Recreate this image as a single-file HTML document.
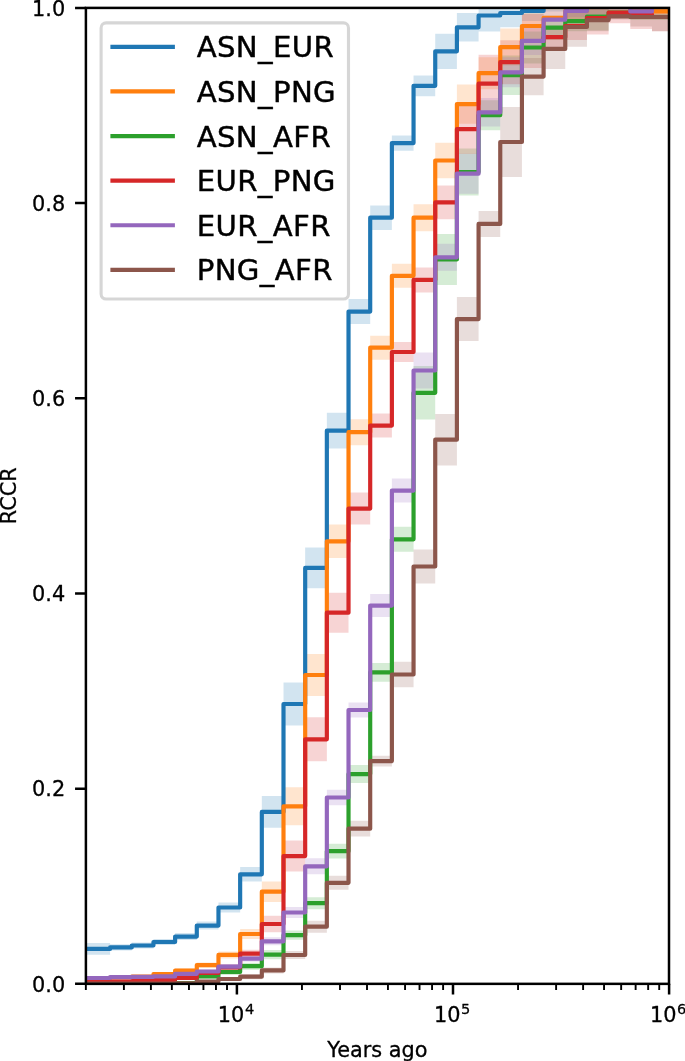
<!DOCTYPE html>
<html lang="en"><head><meta charset="utf-8"><title>RCCR</title>
<style>html,body{margin:0;padding:0;background:#fff}svg{display:block}text{font-family:"DejaVu Sans","Liberation Sans",sans-serif;fill:#000;stroke:#000;stroke-width:0.3px;stroke-linejoin:round}</style></head><body>
<svg width="685" height="1061" viewBox="0 0 685 1061">
<rect width="685" height="1061" fill="#fff"/>
<defs><clipPath id="ax"><rect x="85.9" y="7.9" width="583.1" height="975.95"/></clipPath></defs>
<g clip-path="url(#ax)">
<path d="M80.9 943.1H110.1V954.7H80.9ZM110.1 944.3H131.78V950.5H110.1ZM131.78 942.5H153.45V948.5H131.78ZM153.45 939H175.12V945H153.45ZM175.12 933.1H196.8V940.1H175.12ZM196.8 921.6H218.47V929.6H196.8ZM218.47 902.5H240.15V912.5H218.47ZM240.15 867.1H261.82V881.5H240.15ZM261.82 796.1H283.5V827.7H261.82ZM283.5 682.5H305.18V725.5H283.5ZM305.18 547.5H326.85V588.3H305.18ZM326.85 412.8H348.52V448.6H326.85ZM348.52 299.1H370.2V324.1H348.52ZM370.2 205.5H391.88V229.9H370.2ZM391.88 135.4H413.55V150.8H391.88ZM413.55 75.4H435.23V96.2H413.55ZM435.23 33.7H456.9V68.9H435.23ZM456.9 13.1H478.58V41.5H456.9ZM478.58 -0.5H500.25V31.5H478.58ZM500.25 -1.3H521.93V27.3H500.25ZM521.93 0.9H543.6V20.9H521.93ZM543.6 -0.5H565.27V11.5H543.6ZM565.27 1.5H586.95V9.5H565.27ZM586.95 2.5H608.62V8.5H586.95ZM608.62 3.5H630.3V7.5H608.62ZM630.3 3.5H651.98V7.5H630.3ZM651.98 3.5H673.65V7.5H651.98Z" fill="#1f77b4" fill-opacity="0.2"/>
<path d="M80.9 976.7H110.1V979.7H80.9ZM110.1 976H131.78V979H110.1ZM131.78 975.1H153.45V978.1H131.78ZM153.45 972.7H175.12V975.7H153.45ZM175.12 968.6H196.8V972.6H175.12ZM196.8 962.6H218.47V967.6H196.8ZM218.47 951.4H240.15V958.4H218.47ZM240.15 929H261.82V939H240.15ZM261.82 881.5H283.5V901.9H261.82ZM283.5 787.3H305.18V825.3H283.5ZM305.18 654H326.85V696H305.18ZM326.85 524.5H348.52V558.1H326.85ZM348.52 419.2H370.2V445.2H348.52ZM370.2 335.7H391.88V359.7H370.2ZM391.88 263.8H413.55V287.8H391.88ZM413.55 204.2H435.23V231.2H413.55ZM435.23 142.7H456.9V178.3H435.23ZM456.9 84.4H478.58V123.8H456.9ZM478.58 57.2H500.25V89.2H478.58ZM500.25 28.6H521.93V65.6H500.25ZM521.93 11H543.6V41H521.93ZM543.6 7.8H565.27V27.8H543.6ZM565.27 3H586.95V19H565.27ZM586.95 -3.5H608.62V14.5H586.95ZM608.62 -0.5H630.3V11.5H608.62ZM630.3 6.4H651.98V16.4H630.3ZM651.98 7.3H673.65V15.3H651.98Z" fill="#ff7f0e" fill-opacity="0.2"/>
<path d="M80.9 981.6H110.1V983.6H80.9ZM110.1 981.4H131.78V983.4H110.1ZM131.78 981.1H153.45V983.1H131.78ZM153.45 980.6H175.12V982.6H153.45ZM175.12 981.5H196.8V984.5H175.12ZM196.8 974.5H218.47V978.5H196.8ZM218.47 969H240.15V975H218.47ZM240.15 962.7H261.82V969.7H240.15ZM261.82 950H283.5V959.2H261.82ZM283.5 930.6H305.18V939.8H283.5ZM305.18 897.2H326.85V909.2H305.18ZM326.85 843.8H348.52V858.6H326.85ZM348.52 765.1H370.2V783.1H348.52ZM370.2 663H391.88V681.8H370.2ZM391.88 526.8H413.55V551.8H391.88ZM413.55 366H435.23V419.6H413.55ZM435.23 234H456.9V285H435.23ZM456.9 148.5H478.58V195.5H456.9ZM478.58 100.2H500.25V130.2H478.58ZM500.25 55.5H521.93V94.9H500.25ZM521.93 31.5H543.6V63.5H521.93ZM543.6 15.7H565.27V39.7H543.6ZM565.27 11.2H586.95V31.2H565.27ZM586.95 2.5H608.62V30.5H586.95ZM608.62 9.6H630.3V15.6H608.62ZM630.3 14H651.98V20H630.3ZM651.98 14H673.65V20H651.98Z" fill="#2ca02c" fill-opacity="0.2"/>
<path d="M80.9 980.9H110.1V982.9H80.9ZM110.1 980.5H131.78V982.5H110.1ZM131.78 980H153.45V982H131.78ZM153.45 978.8H175.12V980.8H153.45ZM175.12 976.4H196.8V979.4H175.12ZM196.8 970.9H218.47V974.9H196.8ZM218.47 964.3H240.15V970.3H218.47ZM240.15 949.7H261.82V957.7H240.15ZM261.82 915.8H283.5V932.2H261.82ZM283.5 840.6H305.18V871.6H283.5ZM305.18 717.3H326.85V761.3H305.18ZM326.85 592.7H348.52V632.7H326.85ZM348.52 492.6H370.2V524.6H348.52ZM370.2 413.6H391.88V437.6H370.2ZM391.88 342H413.55V362H391.88ZM413.55 267.4H435.23V292.4H413.55ZM435.23 185.6H456.9V219.2H435.23ZM456.9 104.1H478.58V154.1H456.9ZM478.58 54.7H500.25V112.7H478.58ZM500.25 40.2H521.93V84.2H500.25ZM521.93 14H543.6V68H521.93ZM543.6 26.2H565.27V48.2H543.6ZM565.27 12H586.95V40H565.27ZM586.95 1.7H608.62V34.5H586.95ZM608.62 1.9H630.3V23.3H608.62ZM630.3 0.3H651.98V28.9H630.3ZM651.98 2.7H673.65V31.3H651.98Z" fill="#d62728" fill-opacity="0.2"/>
<path d="M80.9 977H110.1V979H80.9ZM110.1 976.2H131.78V978.2H110.1ZM131.78 975.9H153.45V977.9H131.78ZM153.45 975.4H175.12V977.4H153.45ZM175.12 972.3H196.8V975.3H175.12ZM196.8 969.5H218.47V973.5H196.8ZM218.47 964.1H240.15V969.1H218.47ZM240.15 955.7H261.82V961.7H240.15ZM261.82 937.3H283.5V945.3H261.82ZM283.5 906.9H305.18V918.1H283.5ZM305.18 858.3H326.85V874.3H305.18ZM326.85 789.7H348.52V805.3H326.85ZM348.52 702.5H370.2V717.5H348.52ZM370.2 594.1H391.88V617.1H370.2ZM391.88 478.6H413.55V502.6H391.88ZM413.55 352.5H435.23V388.5H413.55ZM435.23 243.8H456.9V270.8H435.23ZM456.9 153.7H478.58V193.7H456.9ZM478.58 98H500.25V126.6H478.58ZM500.25 57.3H521.93V87.3H500.25ZM521.93 26.9H543.6V54.9H521.93ZM543.6 9.7H565.27V29.7H543.6ZM565.27 5H586.95V17H565.27ZM586.95 -4.5H608.62V14.5H586.95ZM608.62 0H630.3V10H608.62ZM630.3 6.4H651.98V16.4H630.3ZM651.98 0H673.65V10H651.98Z" fill="#9467bd" fill-opacity="0.2"/>
<path d="M80.9 983.1H110.1V984.1H80.9ZM110.1 983.1H131.78V984.1H110.1ZM131.78 983.1H153.45V984.1H131.78ZM153.45 983.1H175.12V984.1H153.45ZM175.12 982.4H196.8V984.4H175.12ZM196.8 980H218.47V983H196.8ZM218.47 977H240.15V981H218.47ZM240.15 974.2H261.82V979.2H240.15ZM261.82 967.4H283.5V973.4H261.82ZM283.5 951H305.18V959H283.5ZM305.18 920.7H326.85V932.7H305.18ZM326.85 875.8H348.52V889.8H326.85ZM348.52 820.8H370.2V836.6H348.52ZM370.2 755.7H391.88V766.5H370.2ZM391.88 661.8H413.55V687.2H391.88ZM413.55 549.5H435.23V583.5H413.55ZM435.23 413.9H456.9V465.5H435.23ZM456.9 297.1H478.58V341.1H456.9ZM478.58 210.9H500.25V236.9H478.58ZM500.25 107H521.93V177H500.25ZM521.93 57.9H543.6V95.3H521.93ZM543.6 28.9H565.27V68.9H543.6ZM565.27 7.3H586.95V46.7H565.27ZM586.95 8.9H608.62V31.3H586.95ZM608.62 13.2H630.3V19.6H608.62ZM630.3 7.5H651.98V26.5H630.3ZM651.98 2.7H673.65V31.3H651.98Z" fill="#8c564b" fill-opacity="0.2"/>
<path d="M80.9 948.9H110.1V947.4H131.78V945.5H153.45V942H175.12V936.6H196.8V925.6H218.47V907.5H240.15V874.3H261.82V811.9H283.5V704H305.18V567.9H326.85V430.7H348.52V311.6H370.2V217.7H391.88V143.1H413.55V85.8H435.23V51.3H456.9V27.3H478.58V15.5H500.25V13H521.93V10.9H543.6V5.5H565.27V5.5H586.95V5.5H608.62V5.5H630.3V5.5H651.98V5.5H673.65" fill="none" stroke="#1f77b4" stroke-width="4.17" stroke-linejoin="round"/>
<path d="M80.9 978.2H110.1V977.5H131.78V976.6H153.45V974.2H175.12V970.6H196.8V965.1H218.47V954.9H240.15V934H261.82V891.7H283.5V806.3H305.18V675H326.85V541.3H348.52V432.2H370.2V347.7H391.88V275.8H413.55V217.7H435.23V160.5H456.9V104.1H478.58V73.2H500.25V47.1H521.93V26H543.6V17.8H565.27V11H586.95V5.5H608.62V5.5H630.3V11.4H651.98V11.3H673.65" fill="none" stroke="#ff7f0e" stroke-width="4.17" stroke-linejoin="round"/>
<path d="M80.9 982.6H110.1V982.4H131.78V982.1H153.45V981.6H175.12V983H196.8V976.5H218.47V972H240.15V966.2H261.82V954.6H283.5V935.2H305.18V903.2H326.85V851.2H348.52V774.1H370.2V672.4H391.88V539.3H413.55V392.8H435.23V259.5H456.9V172H478.58V115.2H500.25V75.2H521.93V47.5H543.6V27.7H565.27V21.2H586.95V16.5H608.62V12.6H630.3V17H651.98V17H673.65" fill="none" stroke="#2ca02c" stroke-width="4.17" stroke-linejoin="round"/>
<path d="M80.9 981.9H110.1V981.5H131.78V981H153.45V979.8H175.12V977.9H196.8V972.9H218.47V967.3H240.15V953.7H261.82V924H283.5V856.1H305.18V739.3H326.85V612.7H348.52V508.6H370.2V425.6H391.88V352H413.55V279.9H435.23V202.4H456.9V129.1H478.58V83.7H500.25V62.2H521.93V41H543.6V37.2H565.27V26H586.95V18.1H608.62V12.6H630.3V14.6H651.98V17H673.65" fill="none" stroke="#d62728" stroke-width="4.17" stroke-linejoin="round"/>
<path d="M80.9 978H110.1V977.2H131.78V976.9H153.45V976.4H175.12V973.8H196.8V971.5H218.47V966.6H240.15V958.7H261.82V941.3H283.5V912.5H305.18V866.3H326.85V797.5H348.52V710H370.2V605.6H391.88V490.6H413.55V370.5H435.23V257.3H456.9V173.7H478.58V112.3H500.25V72.3H521.93V40.9H543.6V19.7H565.27V11H586.95V5H608.62V5H630.3V11.4H651.98V5H673.65" fill="none" stroke="#9467bd" stroke-width="4.17" stroke-linejoin="round"/>
<path d="M80.9 983.6H110.1V983.6H131.78V983.6H153.45V983.6H175.12V983.4H196.8V981.5H218.47V979H240.15V976.7H261.82V970.4H283.5V955H305.18V926.7H326.85V882.8H348.52V828.7H370.2V761.1H391.88V674.5H413.55V566.5H435.23V439.7H456.9V319.1H478.58V223.9H500.25V142H521.93V76.6H543.6V48.9H565.27V27H586.95V20.1H608.62V16.4H630.3V17H651.98V17H673.65" fill="none" stroke="#8c564b" stroke-width="4.17" stroke-linejoin="round"/>
</g>
<rect x="85.9" y="7.9" width="583.1" height="975.95" fill="none" stroke="#000" stroke-width="2.5"/>
<path d="M85.9 983.85H75.05M85.9 788.66H75.05M85.9 593.47H75.05M85.9 398.28H75.05M85.9 203.09H75.05M85.9 7.9H75.05M236.9 983.85V994.5M453 983.85V994.5M669.1 983.85V994.5" stroke="#000" stroke-width="2.5" fill="none"/>
<path d="M85.85 983.85V989.9M123.91 983.85V989.9M150.91 983.85V989.9M171.85 983.85V989.9M188.96 983.85V989.9M203.43 983.85V989.9M215.96 983.85V989.9M227.01 983.85V989.9M301.95 983.85V989.9M340.01 983.85V989.9M367.01 983.85V989.9M387.95 983.85V989.9M405.06 983.85V989.9M419.53 983.85V989.9M432.06 983.85V989.9M443.11 983.85V989.9M518.05 983.85V989.9M556.11 983.85V989.9M583.11 983.85V989.9M604.05 983.85V989.9M621.16 983.85V989.9M635.63 983.85V989.9M648.16 983.85V989.9M659.21 983.85V989.9" stroke="#000" stroke-width="1.9" fill="none"/>
<text x="65.2" y="991.6" font-size="20.83" text-anchor="end">0.0</text>
<text x="65.2" y="796.41" font-size="20.83" text-anchor="end">0.2</text>
<text x="65.2" y="601.22" font-size="20.83" text-anchor="end">0.4</text>
<text x="65.2" y="406.03" font-size="20.83" text-anchor="end">0.6</text>
<text x="65.2" y="210.84" font-size="20.83" text-anchor="end">0.8</text>
<text x="65.2" y="15.65" font-size="20.83" text-anchor="end">1.0</text>
<text x="217.8" y="1022.4" font-size="20.83">10<tspan dy="-8" dx="0.6" font-size="14.58">4</tspan></text>
<text x="433.9" y="1022.4" font-size="20.83">10<tspan dy="-8" dx="0.6" font-size="14.58">5</tspan></text>
<text x="650" y="1022.4" font-size="20.83">10<tspan dy="-8" dx="0.6" font-size="14.58">6</tspan></text>
<text x="377.4" y="1056.6" font-size="20.83" text-anchor="middle">Years ago</text>
<text transform="translate(15.9 495.8) rotate(-90)" font-size="20.83" text-anchor="middle">RCCR</text>
<rect x="101.1" y="22.9" width="247.4" height="276.1" rx="5" ry="5" fill="#fff" fill-opacity="0.8" stroke="#ccc" stroke-opacity="0.8" stroke-width="3.1"/>
<path d="M110.4 46.8H174.9" stroke="#1f77b4" stroke-width="4.17" fill="none"/>
<text x="196.7" y="57.35" font-size="29.17" letter-spacing="0.36" style="stroke-width:0.45px">ASN_EUR</text>
<path d="M110.4 91.42H174.9" stroke="#ff7f0e" stroke-width="4.17" fill="none"/>
<text x="196.7" y="101.97" font-size="29.17" letter-spacing="0.36" style="stroke-width:0.45px">ASN_PNG</text>
<path d="M110.4 136.04H174.9" stroke="#2ca02c" stroke-width="4.17" fill="none"/>
<text x="196.7" y="146.59" font-size="29.17" letter-spacing="0.36" style="stroke-width:0.45px">ASN_AFR</text>
<path d="M110.4 180.66H174.9" stroke="#d62728" stroke-width="4.17" fill="none"/>
<text x="196.7" y="191.21" font-size="29.17" letter-spacing="0.36" style="stroke-width:0.45px">EUR_PNG</text>
<path d="M110.4 225.28H174.9" stroke="#9467bd" stroke-width="4.17" fill="none"/>
<text x="196.7" y="235.83" font-size="29.17" letter-spacing="0.36" style="stroke-width:0.45px">EUR_AFR</text>
<path d="M110.4 269.9H174.9" stroke="#8c564b" stroke-width="4.17" fill="none"/>
<text x="196.7" y="280.45" font-size="29.17" letter-spacing="0.36" style="stroke-width:0.45px">PNG_AFR</text>
</svg></body></html>
